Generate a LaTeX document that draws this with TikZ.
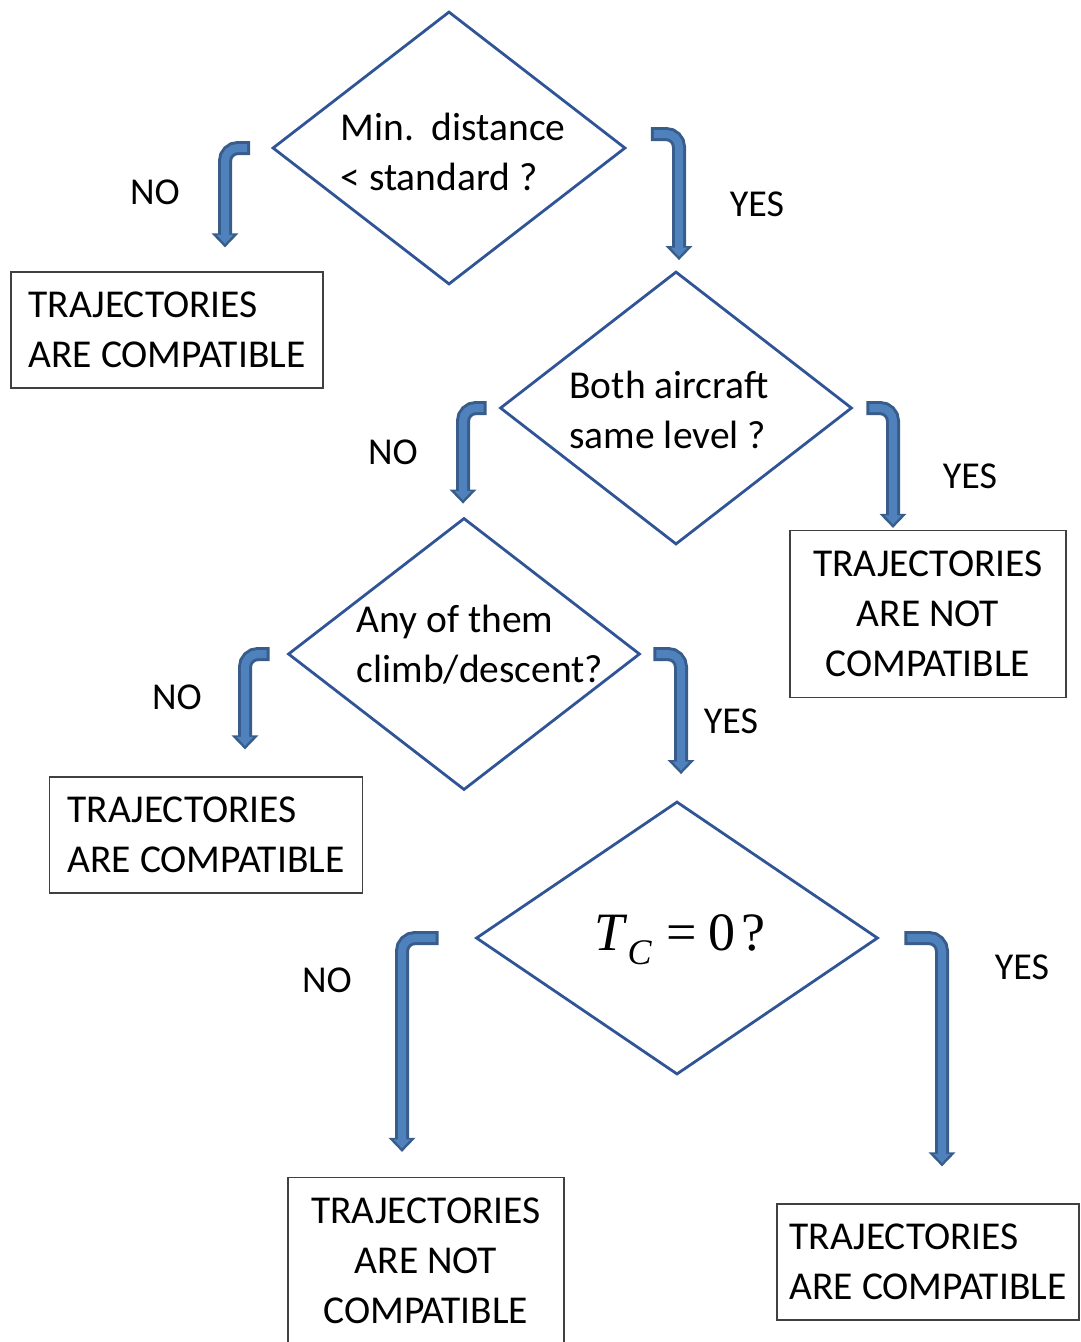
\documentclass[tikz,border=0pt]{standalone}
\usepackage{fontspec}
\setmainfont{Carlito}
\newfontfamily\formulafont{Liberation Serif}
\usetikzlibrary{shapes.geometric, arrows.meta}
\definecolor{diamondblue}{RGB}{47,85,151}
\definecolor{arrowblue}{RGB}{79,129,189}
\definecolor{arrowedge}{RGB}{56,93,138}
\tikzstyle{decision} = [diamond, draw=diamondblue, line width=2.8pt, minimum width=353pt, minimum height=273pt, inner sep=0pt]
\tikzstyle{question} = [align=left, inner sep=0pt, font=\fontsize{39.5}{50}\selectfont]
\tikzstyle{result} = [rectangle, draw=black!75, line width=1.2pt, inner sep=0pt, font=\fontsize{39.5}{50}\selectfont]
\tikzstyle{answer} = [font=\fontsize{38}{44}\selectfont]
\tikzstyle{bent} = [arrowblue, line width=8pt, rounded corners=13pt, shorten <=3pt, shorten >=3.5pt, -{Triangle[width=16pt, length=9pt]}, preaction={draw=arrowedge, line width=14pt, shorten <=0pt, shorten >=0pt, -{Triangle[width=26pt, length=14pt]}}]

\begin{document}
\begin{tikzpicture}[x=1pt, y=-1pt]
                \useasboundingbox (0,0) rectangle (1081,1342);
                % Nodes
                \node (minDist) [decision] at (449,148) {};
                \node (minDistText) [question] at (453,152) {Min.\ \ distance\\< standard ?};
                \node (compat1) [result, minimum width=312pt, minimum height=116pt, align=left] at (167,330) {TRAJECTORIES\\ARE COMPATIBLE};
                \node (sameLevel) [decision, minimum width=352pt] at (676,408) {};
                \node (sameLevelText) [question] at (669,410) {Both aircraft\\same level ?};
                \node (notCompat1) [result, minimum width=276pt, minimum height=167pt, align=center] at (928,614) {TRAJECTORIES\\ARE NOT\\COMPATIBLE};
                \node (climbDesc) [decision, minimum width=352pt, minimum height=272pt] at (464,654) {};
                \node (climbDescText) [question] at (480,645) {Any of them\\climb/descent?};
                \node (compat2) [result, minimum width=313pt, minimum height=116pt, align=left] at (206,835) {TRAJECTORIES\\ARE COMPATIBLE};
                \node (tcZero) [decision, minimum width=402pt] at (677,938) {};
                \node (tcZeroText) [inner sep=0pt, font=\formulafont\fontsize{54}{60}\selectfont] at (680,940) {\textit{T}\raisebox{-14pt}{\fontsize{36}{40}\selectfont\textit{C}}\hspace{14pt}=\hspace{12pt}0\hspace{6pt}?};
                \node (notCompat2) [result, minimum width=276pt, minimum height=167pt, align=center] at (426,1261) {TRAJECTORIES\\ARE NOT\\COMPATIBLE};
                \node (compat3) [result, minimum width=302pt, minimum height=116pt, align=left] at (928,1262) {TRAJECTORIES\\ARE COMPATIBLE};

                % Labels
                \node (no1) [answer] at (155,192) {NO};
                \node (yes1) [answer] at (757,204) {YES};
                \node (no2) [answer] at (393,452) {NO};
                \node (yes2) [answer] at (970,476) {YES};
                \node (no3) [answer] at (177,697) {NO};
                \node (yes3) [answer] at (731,721) {YES};
                \node (no4) [answer] at (327,980) {NO};
                \node (yes4) [answer] at (1022,967) {YES};

                % Arrows
                \draw [bent] ([xshift=-21pt]minDist.west) -| ([xshift=58pt, yshift=24pt]compat1.north);
                \draw [bent] ([xshift=24pt, yshift=14pt]minDist.east) -| ([xshift=3pt, yshift=10pt]sameLevel.north);
                \draw [bent] ([xshift=-12pt]sameLevel.west) -| ([xshift=-1pt, yshift=13pt]climbDesc.north);
                \draw [bent] ([xshift=13pt]sameLevel.east) -| ([xshift=-35pt, yshift=2pt]notCompat1.north);
                \draw [bent] ([xshift=-17pt]climbDesc.west) -| ([xshift=39pt, yshift=27pt]compat2.north);
                \draw [bent] ([xshift=12pt]climbDesc.east) -| ([xshift=4pt, yshift=26pt]tcZero.north);
                \draw [bent] ([xshift=-36pt]tcZero.west) -| ([xshift=-24pt, yshift=25pt]notCompat2.north);
                \draw [bent] ([xshift=25pt]tcZero.east) -| ([xshift=14pt, yshift=37pt]compat3.north);
            \end{tikzpicture}
\end{document}
